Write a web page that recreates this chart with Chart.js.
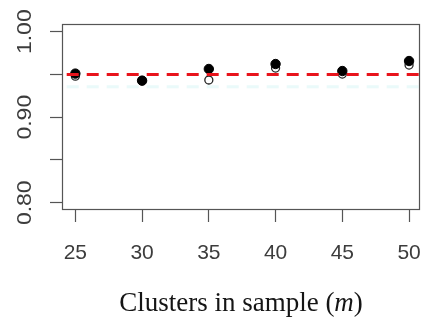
<!DOCTYPE html>
<html>
<head>
<meta charset="utf-8">
<script src="https://cdn.jsdelivr.net/npm/chart.js@4/dist/chart.umd.min.js"></script>
<style>
  html, body { margin: 0; padding: 0; background: #fff; }
  #wrap { width: 422px; height: 320px; }
</style>
</head>
<body>
<div id="wrap"><canvas id="chart" width="422" height="320"></canvas></div>
<script>
// clusters in sample (m)
const clusters = [25, 30, 35, 40, 45, 50];
// filled dots and open dots
const filledVals = [0.951, 0.9427, 0.9564, 0.9622, 0.954, 0.9657];
const openVals = [0.948, 0.943, 0.9435, 0.9575, 0.9505, 0.961];
// nominal level (red dashed line) and its faint ghost
const refLevel = 0.95;
const ghostLevel = 0.9357;

const xTicks = [25, 30, 35, 40, 45, 50];
const yTicks = [0.80, 0.85, 0.90, 0.95, 1.00];
const yLabels = ['0.80', '', '0.90', '', '1.00'];

const axisColor = '#555';
const labelColor = '#3c3c3c';

// box around the plot region, R style
const boxPlugin = {
    id: 'box',
    beforeDatasetsDraw(chart) {
        const { ctx, chartArea: a } = chart;
        ctx.save();
        ctx.strokeStyle = axisColor;
        ctx.lineWidth = 1.2;
        ctx.strokeRect(a.left + 0.5, a.top + 0.5, a.right - a.left - 1, a.bottom - a.top - 1);
        ctx.restore();
    }
};

// horizontal reference line across the plot
const refLinePlugin = {
    id: 'refLine',
    afterDatasetsDraw(chart) {
        const { ctx, chartArea: a, scales } = chart;
        ctx.save();
        ctx.beginPath();
        ctx.rect(a.left, a.top, a.right - a.left, a.bottom - a.top);
        ctx.clip();
        ctx.lineWidth = 3;
        ctx.setLineDash([12, 8]);
        ctx.lineDashOffset = 15.3;

        let yg = scales.y.getPixelForValue(ghostLevel);
        ctx.strokeStyle = 'rgba(170, 236, 236, 0.25)';
        ctx.beginPath();
        ctx.moveTo(a.left, yg);
        ctx.lineTo(a.right, yg);
        ctx.stroke();

        let yr = scales.y.getPixelForValue(refLevel);
        ctx.strokeStyle = '#e8141c';
        ctx.beginPath();
        ctx.moveTo(a.left, yr);
        ctx.lineTo(a.right, yr);
        ctx.stroke();
        ctx.restore();
    }
};

// rotated y labels and the x axis title
const textPlugin = {
    id: 'texts',
    afterDraw(chart) {
        const { ctx, chartArea: a, scales } = chart;
        ctx.save();
        ctx.fillStyle = labelColor;
        ctx.font = '23px "Liberation Sans", Arial, sans-serif';
        ctx.textAlign = 'center';
        ctx.textBaseline = 'middle';
        yTicks.forEach((v, i) => {
            if (!yLabels[i]) return;
            const y = scales.y.getPixelForValue(v);
            ctx.save();
            ctx.translate(25, y);
            ctx.scale(0.88, 1);
            ctx.rotate(-Math.PI / 2);
            ctx.fillText(yLabels[i], 0, 1);
            ctx.restore();
        });

        // "Clusters in sample (m)" with italic m
        const partA = 'Clusters in sample (';
        const partB = 'm';
        const partC = ')';
        const normal = '27px "Liberation Serif", "Times New Roman", serif';
        const italic = 'italic 27px "Liberation Serif", "Times New Roman", serif';
        ctx.fillStyle = '#151515';
        ctx.textBaseline = 'alphabetic';
        ctx.textAlign = 'left';
        ctx.font = normal;
        const wA = ctx.measureText(partA).width;
        const wC = ctx.measureText(partC).width;
        ctx.font = italic;
        const wB = ctx.measureText(partB).width;
        const total = wA + wB + wC;
        let x = (a.left + a.right) / 2 - total / 2;
        const base = 311;
        ctx.font = normal;
        ctx.fillText(partA, x, base);
        ctx.font = italic;
        ctx.fillText(partB, x + wA, base);
        ctx.font = normal;
        ctx.fillText(partC, x + wA + wB, base);
        ctx.restore();
    }
};

const ctx = document.getElementById('chart');
new Chart(ctx, {
    type: 'scatter',
    data: {
        datasets: [
            {
                label: 'filled',
                data: clusters.map((m, i) => ({ x: m, y: filledVals[i] })),
                pointStyle: 'circle',
                pointRadius: 4.7,
                pointBackgroundColor: '#000',
                pointBorderColor: '#000',
                pointBorderWidth: 1,
                order: 1
            },
            {
                label: 'open',
                data: clusters.map((m, i) => ({ x: m, y: openVals[i] })),
                pointStyle: 'circle',
                pointRadius: 4,
                pointBackgroundColor: 'rgba(0,0,0,0)',
                pointBorderColor: '#222',
                pointBorderWidth: 1.3,
                order: 2
            }
        ]
    },
    options: {
        responsive: false,
        animation: false,
        devicePixelRatio: 1,
        layout: { autoPadding: false, padding: { top: 24, right: 2, left: 0, bottom: 0 } },
        plugins: {
            legend: { display: false },
            tooltip: { enabled: false }
        },
        scales: {
            x: {
                type: 'linear',
                min: 24.0,
                max: 50.82,
                afterBuildTicks: s => { s.ticks = xTicks.map(v => ({ value: v })); },
                afterFit: s => { s.height = 110; s.paddingLeft = 0; s.paddingRight = 0; },
                border: { display: false },
                grid: { drawOnChartArea: false, drawTicks: true, tickLength: 12, tickColor: axisColor, tickWidth: 1.2 },
                ticks: {
                    color: labelColor,
                    font: { family: '"Liberation Sans", Arial, sans-serif', size: 21 },
                    padding: 19,
                    maxRotation: 0,
                    autoSkip: false
                }
            },
            y: {
                type: 'linear',
                min: 0.7915,
                max: 1.009,
                afterBuildTicks: s => { s.ticks = yTicks.map(v => ({ value: v })); },
                afterFit: s => { s.width = 62; },
                border: { display: false },
                grid: { drawOnChartArea: false, drawTicks: true, tickLength: 12, tickColor: axisColor, tickWidth: 1.2 },
                ticks: { display: false }
            }
        }
    },
    plugins: [boxPlugin, refLinePlugin, textPlugin]
});
</script>
</body>
</html>
